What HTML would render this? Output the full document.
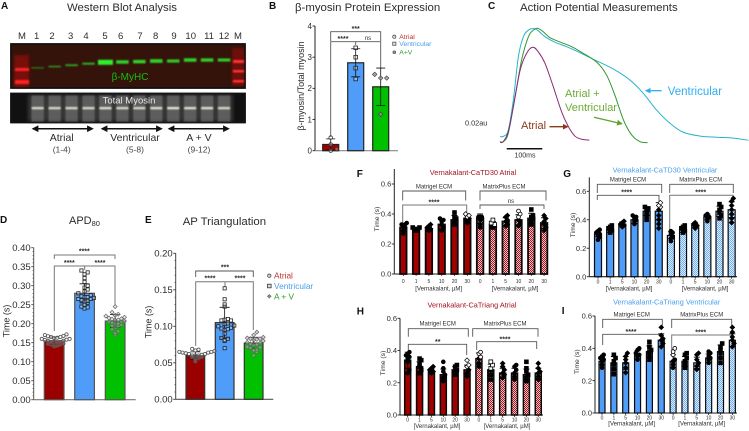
<!DOCTYPE html>
<html lang="en">
<head>
<meta charset="utf-8">
<title>Western blot and action potential figure</title>
<style>
html,body{margin:0;padding:0;background:#fff;width:749px;height:431px;overflow:hidden}
svg{display:block;filter:blur(.35px)}
text{font-family:"Liberation Sans",sans-serif;fill:#2c2c2c}
.letter{font-weight:bold;font-size:10px;fill:#111}
.title{font-size:11.4px;fill:#2c2c2c}
.lane{font-size:9.5px;text-anchor:middle;fill:#2c2c2c}
.grp{font-size:6px;text-anchor:middle;fill:#2c2c2c}
.xl{font-size:6px;text-anchor:middle;fill:#2c2c2c}
.star{font-size:7px;text-anchor:middle;font-weight:bold;fill:#2c2c2c}
.brk{fill:none;stroke:#555;stroke-width:.9}
.brkl{fill:none;stroke:#777;stroke-width:1}
.rl{font-size:10.5px;text-anchor:middle;fill:#2c2c2c}
.rs{font-size:8.5px;text-anchor:middle;fill:#444}
</style>
</head>
<body>
<svg id="fig" width="749" height="431" viewBox="0 0 749 431" xmlns="http://www.w3.org/2000/svg">
<defs>
<filter id="b1" x="-30%" y="-100%" width="160%" height="300%"><feGaussianBlur stdDeviation="0.8"/></filter>
<filter id="b2" x="-30%" y="-30%" width="160%" height="160%"><feGaussianBlur stdDeviation="1.6"/></filter>
<pattern id="hatchRed" width="2" height="2" patternUnits="userSpaceOnUse"><rect width="2" height="2" fill="#f0c4c4"/><rect width="1" height="1" fill="#a81420"/><rect x="1" y="1" width="1" height="1" fill="#a81420"/></pattern>
<pattern id="hatchBlue" width="2" height="2" patternUnits="userSpaceOnUse"><rect width="2" height="2" fill="#dcecff"/><rect width="1" height="1" fill="#6fb0f8"/><rect x="1" y="1" width="1" height="1" fill="#6fb0f8"/></pattern>
<marker id="ah" viewBox="0 0 10 10" refX="8" refY="5" markerWidth="4.5" markerHeight="4.5" orient="auto-start-reverse"><path d="M0 0L10 5L0 10z" fill="#111"/></marker>
<marker id="ahb" viewBox="0 0 10 10" refX="8" refY="5" markerWidth="4.5" markerHeight="4.5" orient="auto"><path d="M0 0L10 5L0 10z" fill="#2eaef0"/></marker>
<marker id="ahg" viewBox="0 0 10 10" refX="8" refY="5" markerWidth="4.5" markerHeight="4.5" orient="auto"><path d="M0 0L10 5L0 10z" fill="#5fa32e"/></marker>
<marker id="ahr" viewBox="0 0 10 10" refX="8" refY="5" markerWidth="4.5" markerHeight="4.5" orient="auto"><path d="M0 0L10 5L0 10z" fill="#8a3a1a"/></marker>
</defs>

<!-- Panel A -->
<g>
<text class="letter" x="1" y="9">A</text>
<text class="title" x="122" y="11" text-anchor="middle">Western Blot Analysis</text>
<g>
<text class="lane" x="22" y="39">M</text><text class="lane" x="36.7" y="39">1</text><text class="lane" x="52" y="39">2</text><text class="lane" x="70.7" y="39">3</text><text class="lane" x="86" y="39">4</text><text class="lane" x="105" y="39">5</text><text class="lane" x="120.7" y="39">6</text><text class="lane" x="140" y="39">7</text><text class="lane" x="155.7" y="39">8</text><text class="lane" x="174" y="39">9</text><text class="lane" x="190.7" y="39">10</text><text class="lane" x="209" y="39">11</text><text class="lane" x="224" y="39">12</text><text class="lane" x="238" y="39">M</text>
</g>
<rect x="11" y="44" width="234" height="44" fill="#34130a" stroke="#111" stroke-width="1.8"/>
<g id="blot1"></g>
<text x="130" y="80" text-anchor="middle" font-size="10" style="fill:#12c012">β-MyHC</text>
<rect x="11" y="93.500" width="234" height="29" fill="#111" stroke="#111" stroke-width="1.8"/>
<g id="blot2"></g>
<text x="129" y="103.500" text-anchor="middle" font-size="9.500" style="fill:#e8e8e8">Total Myosin</text>
<g stroke="#111" stroke-width="1.5">
<line x1="33" y1="128.700" x2="92.500" y2="128.700" marker-start="url(#ah)" marker-end="url(#ah)"/>
<line x1="102" y1="128.700" x2="161.500" y2="128.700" marker-start="url(#ah)" marker-end="url(#ah)"/>
<line x1="169" y1="128.700" x2="228.500" y2="128.700" marker-start="url(#ah)" marker-end="url(#ah)"/>
</g>
<text class="rl" x="61.700" y="141">Atrial</text>
<text class="rl" x="135" y="141">Ventricular</text>
<text class="rl" x="199" y="141">A + V</text>
<text class="rs" x="61.700" y="152.500">(1-4)</text>
<text class="rs" x="135" y="152.500">(5-8)</text>
<text class="rs" x="199" y="152.500">(9-12)</text>
</g>

<!-- Panel B -->
<g>
<text class="letter" x="269" y="9">B</text>
<text class="title" x="295" y="11">β-myosin Protein Expression</text>
<text transform="translate(304,86) rotate(-90)" font-size="9" text-anchor="middle">β-myosin/Total myosin</text>
<path class="brk" d="M330.700 41V31.700H380.700V41"/>
<path class="brk" d="M330.700 137V41.700H380.700V68M355.700 41.700V45"/>
<text class="star" x="355.700" y="31">***</text>
<text class="star" x="343" y="41">****</text>
<text x="368" y="40" font-size="6" text-anchor="middle">ns</text>
<g>
<circle cx="394.300" cy="36.700" r="1.600" fill="#ddd" stroke="#444" stroke-width=".7"/><text x="399.300" y="39" font-size="6.800" style="fill:#c03030">Atrial</text>
<rect x="392.700" y="42.100" width="3.200" height="3.200" fill="#ddd" stroke="#444" stroke-width=".7"/><text x="399.300" y="46" font-size="6.800" style="fill:#4a9df0">Ventricular</text>
<circle cx="394.300" cy="52.300" r="1.400" fill="#999" stroke="#555" stroke-width=".7"/><text x="399.300" y="54.500" font-size="6.800" style="fill:#2aa02a">A+V</text>
</g>
<g id="chartB"></g>
</g>

<!-- Panel C -->
<g>
<text class="letter" x="488" y="9">C</text>
<text class="title" x="520" y="11">Action Potential Measurements</text>
<g id="chartC"></g>
<text x="465" y="125.500" font-size="7.300">0.02au</text>
<line x1="506.700" y1="148.700" x2="542.300" y2="148.700" stroke="#111" stroke-width="1.500"/>
<text x="525" y="157.500" font-size="7" text-anchor="middle">100ms</text>
<text x="667.700" y="95" font-size="11.500" style="fill:#2eaef0">Ventricular</text>
<line x1="661.700" y1="90.700" x2="646" y2="90.700" stroke="#2eaef0" stroke-width="1.300" marker-end="url(#ahb)"/>
<text x="565" y="97" font-size="11" style="fill:#6aaa35">Atrial +</text>
<text x="565" y="111" font-size="11" style="fill:#6aaa35">Ventricular</text>
<line x1="594" y1="117.300" x2="621.700" y2="123.700" stroke="#5fa32e" stroke-width="1.300" marker-end="url(#ahg)"/>
<text x="521" y="129" font-size="11" style="fill:#8a3a1a">Atrial</text>
<line x1="549.500" y1="126.700" x2="567.500" y2="126.700" stroke="#8a3a1a" stroke-width="1.300" marker-end="url(#ahr)"/>
</g>

<!-- Panel D -->
<g>
<text class="letter" x="0" y="223">D</text>
<text x="69" y="224" font-size="11">APD<tspan font-size="7.500" dy="2">80</tspan></text>
<text transform="translate(9.500,321) rotate(-90)" font-size="9" text-anchor="middle">Time (s)</text>
<path class="brkl" d="M54.300 259V255H115V259"/>
<path class="brkl" d="M54.300 331V266H115V305M84.700 266V270"/>
<text class="star" x="84.300" y="253.500">****</text>
<text class="star" x="69.300" y="265">****</text>
<text class="star" x="100" y="265">****</text>
<g id="chartD"></g>
</g>

<!-- Panel E -->
<g>
<text class="letter" x="145" y="223">E</text>
<text class="title" x="182.700" y="225">AP Triangulation</text>
<text transform="translate(151.500,322) rotate(-90)" font-size="9" text-anchor="middle">Time (s)</text>
<path class="brk" d="M195.700 277V271H253.300V277"/>
<path class="brkl" d="M195.700 346V281.700H253.300V330M225 281.700V287"/>
<text class="star" x="225" y="269.500">***</text>
<text class="star" x="210" y="280.500">****</text>
<text class="star" x="240" y="280.500">****</text>
<g>
<circle cx="269.300" cy="275.700" r="1.700" fill="#ccc" stroke="#444" stroke-width=".7"/><text x="274" y="278.500" font-size="8.300" style="fill:#c03030">Atrial</text>
<rect x="267.500" y="284.200" width="3.600" height="3.600" fill="#ddd" stroke="#333" stroke-width=".8"/><text x="274" y="289" font-size="8.300" style="fill:#4a9df0">Ventricular</text>
<path d="M269.300 294.300l2 2-2 2-2-2z" fill="#888" stroke="#555" stroke-width=".5"/><text x="274" y="299.300" font-size="8.300" style="fill:#2aa02a">A + V</text>
</g>
<g id="chartE"></g>
</g>

<!-- Panel F -->
<g>
<text class="letter" x="356.700" y="177" font-size="11">F</text>
<text x="473" y="175" font-size="7.300" text-anchor="middle" style="fill:#a0141e">Vernakalant-CaTD30 Atrial</text>
<text transform="translate(379,219) rotate(-90)" font-size="6.800" text-anchor="middle">Time (s)</text>
<text class="grp" x="434" y="188.300">Matrigel ECM</text>
<text class="grp" x="504" y="188.300">MatrixPlus ECM</text>
<path class="brk" d="M402.700 200.500V191H465.700V200.500"/>
<path class="brk" d="M480 200.500V191H546V200.500"/>
<path class="brkl" d="M402.700 225V205H466.700V213"/>
<path class="brk" d="M480 209V205H544V209"/>
<text class="star" x="434" y="204.500">****</text>
<text x="511" y="203" font-size="6" text-anchor="middle">ns</text>
<text class="xl" x="438.700" y="290.500">[Vernakalant, µM]</text>
<text class="xl" x="515" y="290.500">[Vernakalant, µM]</text>
<g id="chartF"></g>
</g>

<!-- Panel G -->
<g>
<text class="letter" x="563.300" y="177" font-size="11">G</text>
<text x="665" y="172.500" font-size="7.300" text-anchor="middle" style="fill:#4aa0f0">Vernakalant-CaTD30 Ventricular</text>
<text transform="translate(575,225) rotate(-90)" font-size="6.800" text-anchor="middle">Time (s)</text>
<text class="grp" x="628" y="181.500">Matrigel ECM</text>
<text class="grp" x="700.700" y="181.500">MatrixPlus ECM</text>
<path class="brk" d="M597.300 193V184.300H661.700V193"/>
<path class="brk" d="M669.700 193V184.300H733.300V193"/>
<path class="brk" d="M597.300 200V195.300H659V203"/>
<path class="brkl" d="M669.700 230V195.300H733V201"/>
<text class="star" x="626.700" y="194.500">****</text>
<text class="star" x="700.700" y="194.500">****</text>
<text class="xl" x="629" y="290.500">[Vernakalant, µM]</text>
<text class="xl" x="705" y="290.500">[Vernakalant, µM]</text>
<g id="chartG"></g>
</g>

<!-- Panel H -->
<g>
<text class="letter" x="356.700" y="314.500" font-size="11">H</text>
<text x="472" y="307.500" font-size="7.300" text-anchor="middle" style="fill:#a0141e">Vernakalant-CaTriang Atrial</text>
<text transform="translate(385,363) rotate(-90)" font-size="6.800" text-anchor="middle">Time (s)</text>
<text class="grp" x="437.700" y="325.700">Matrigel ECM</text>
<text class="grp" x="505" y="325.700">MatrixPlus ECM</text>
<path class="brk" d="M408.300 336.700V328.700H468.300V336.700"/>
<path class="brk" d="M472.700 336.700V328.700H538V336.700"/>
<path class="brk" d="M408.300 350V344.300H466.700V355"/>
<path class="brk" d="M476.700 350V341.700H536.700V349"/>
<text class="star" x="437.700" y="344">**</text>
<text class="star" x="505" y="341.500">****</text>
<text class="xl" x="437" y="428">[Vernakalant, µM]</text>
<text class="xl" x="507" y="428">[Vernakalant, µM]</text>
<g id="chartH"></g>
</g>

<!-- Panel I -->
<g>
<text class="letter" x="561.700" y="314" font-size="11">I</text>
<text x="666.700" y="304.500" font-size="7.300" text-anchor="middle" style="fill:#4aa0f0">Vernakalant-CaTriang Ventricular</text>
<text transform="translate(579,361.700) rotate(-90)" font-size="6.800" text-anchor="middle">Time (s)</text>
<text class="grp" x="631.700" y="316.700">Matrigel ECM</text>
<text class="grp" x="701.700" y="316.700">MatrixPlus ECM</text>
<path class="brk" d="M602.700 328V319.300H662.300V328"/>
<path class="brk" d="M671.700 328V319.300H731.700V328"/>
<path class="brk" d="M602.700 345V334.300H662V340"/>
<path class="brkl" d="M671.700 350V335H733.300V340"/>
<text class="star" x="631" y="334">****</text>
<text class="star" x="700.700" y="334.500">****</text>
<text class="xl" x="631.700" y="425.500">[Vernakalant, µM]</text>
<text class="xl" x="701.700" y="425.500">[Vernakalant, µM]</text>
<g id="chartI"></g>
</g>
</svg>

<script>
// ---------- Blot data ----------
var bandIntensity = [0.3, 0.42, 0.5, 0.55, 1, 0.8, 0.8, 0.82, 0.75, 0.8, 0.78, 0.75];
var bandMigration = [0.55, 0.52, 0.49, 0.456, 0.425, 0.418, 0.41, 0.396, 0.396, 0.374, 0.374, 0.374];
var myosinIntensity = [0.85, 0.85, 0.85, 0.85, 0.9, 0.85, 0.85, 0.9, 0.95, 0.9, 0.9, 0.85];

// ---------- Panel B ----------
var bMeans = [0.2, 2.82, 2.05];
var bErrors = [0.18, 0.45, 0.6];
var bPoints = [[0.0, 0.05, 0.2, 0.42], [2.3, 2.65, 3.0, 3.3], [1.17, 2.33, 2.33, 2.45]];
var bTicks = ["0", "1", "2", "3", "4"];

// ---------- Panel C (time in ms, amplitude in au) ----------
var ventricularTime = [0,11,23,37,51,65,79,93,106,125,153,185,222,259,315,361,398,435,472,509,556,602,648,690];
var ventricularAmp = [.003,.0033,.0063,.0213,.043,.053,.0563,.057,.056,.053,.0502,.048,.045,.0417,.0368,.0313,.0247,.0163,.0097,.0052,.0033,.0027,.0023,.0012];
var mixedTime = [0,9,23,42,60,79,93,104,120,139,167,199,231,269,296,319,343,366,389,410];
var mixedAmp = [.0005,.0005,.0047,.023,.0413,.053,.0563,.0572,.0555,.0525,.0503,.048,.0447,.0402,.0338,.0238,.0113,.0038,.0005,0];
var atrialTime = [0,9,23,37,56,74,91,106,125,148,171,190,208,227,248];
var atrialAmp = [.0002,.0005,.0055,.018,.0363,.0447,.0477,.0455,.0397,.028,.0155,.008,.0033,.0017,.0013];

// ---------- Panel D ----------
var dMeans = [0.155, 0.28, 0.207];
var dErrors = [0.01, 0.025, 0.017];
var dAtrial = [.14,.142,.145,.145,.147,.148,.15,.15,.152,.152,.155,.155,.157,.158,.16,.16,.162,.163,.165,.165,.167,.168,.17,.172];
var dVentricular = [.24,.243,.245,.25,.255,.258,.26,.262,.265,.265,.268,.27,.27,.272,.275,.28,.285,.29,.295,.30,.31,.32,.33,.335,.34];
var dMixed = [.17,.175,.18,.185,.19,.193,.195,.197,.2,.2,.203,.205,.205,.207,.21,.21,.212,.213,.215,.217,.22,.222,.225,.23,.245];
var dTicks = ["0.00","0.05","0.10","0.15","0.20","0.25","0.30","0.35","0.40"];

// ---------- Panel E ----------
var eMeans = [0.06, 0.105, 0.077];
var eErrors = [0.005, 0.021, 0.008];
var eAtrial = [.052,.055,.056,.058,.058,.06,.06,.06,.061,.062,.062,.063,.064,.064,.065,.065,.066,.067,.068,.069];
var eVentricular = [.07,.08,.081,.083,.084,.09,.095,.096,.097,.098,.1,.101,.103,.104,.108,.108,.109,.11,.127,.13,.137,.152];
var eMixed = [.06,.065,.067,.068,.07,.071,.072,.074,.075,.076,.077,.078,.08,.081,.082,.083,.083,.084,.085,.088,.092];
var eTicks = ["0.00","0.05","0.10","0.15","0.20"];

// ---------- Panels F-I ----------
var doseLabels = ["0","1","5","10","20","30","0","1","5","10","20","30"];
var smallTicks = ["0.0","0.2","0.4","0.6"];
var fMeans = [.31,.3,.3,.33,.36,.37,.37,.33,.35,.36,.37,.34];
var fErrors = [.025,.01,.015,.03,.03,.02,.03,.02,.025,.035,.035,.035];
var fPoints = [[.27,.29,.31,.32,.33,.33,.34],[.29,.3,.3,.31,.31],[.29,.3,.31,.32,.33],[.29,.31,.33,.35,.36,.37],[.33,.35,.37,.38,.41],[.34,.36,.37,.38,.39,.4],[.31,.33,.36,.37,.38,.38,.38],[.31,.32,.33,.34,.36],[.32,.33,.35,.36,.38,.39],[.32,.34,.36,.38,.4,.42],[.33,.35,.37,.38,.39,.43],[.29,.31,.33,.35,.37,.39]];
var gMeans = [.3,.33,.37,.4,.46,.46,.29,.33,.36,.42,.46,.47];
var gErrors = [.02,.02,.015,.025,.03,.06,.025,.02,.015,.02,.035,.055];
var gPoints = [[.26,.28,.29,.3,.31,.32,.33],[.31,.32,.33,.34,.35,.36],[.35,.36,.37,.38,.39],[.37,.39,.4,.41,.42,.43],[.4,.43,.45,.47,.48,.49],[.34,.37,.4,.43,.47,.49,.5,.52],[.25,.27,.28,.3,.31,.32],[.31,.32,.33,.34,.35,.36],[.34,.35,.36,.37,.38],[.39,.41,.42,.43,.44],[.41,.43,.45,.47,.49,.51],[.38,.41,.44,.47,.5,.53,.55]];
var hMeans = [.34,.3,.27,.25,.28,.28,.35,.28,.26,.26,.25,.26];
var hErrors = [.05,.03,.015,.035,.02,.03,.035,.035,.03,.03,.035,.03];
var hPoints = [[.26,.28,.33,.35,.36,.37,.38,.39],[.26,.28,.3,.32,.34,.35],[.26,.27,.28,.29,.3],[.21,.23,.25,.27,.29,.33],[.25,.27,.28,.3,.31],[.24,.26,.28,.3,.31,.34],[.3,.32,.35,.36,.38,.39],[.22,.25,.28,.29,.31,.33],[.23,.25,.26,.28,.3,.32],[.22,.24,.26,.28,.3,.31],[.21,.23,.25,.27,.29,.33],[.22,.24,.26,.27,.29,.32]];
var iMeans = [.32,.31,.31,.36,.38,.45,.32,.32,.31,.34,.38,.45];
var iErrors = [.025,.04,.04,.025,.035,.04,.04,.03,.035,.025,.04,.04];
var iPoints = [[.28,.3,.32,.33,.34,.35,.36],[.24,.27,.3,.32,.34,.36],[.25,.28,.31,.33,.35,.37],[.33,.35,.36,.37,.39,.4],[.33,.36,.38,.39,.41,.44],[.41,.43,.45,.46,.48,.53],[.28,.3,.32,.33,.36,.38,.4],[.28,.3,.32,.34,.36,.37],[.27,.29,.31,.33,.36,.37],[.31,.33,.34,.35,.37,.38],[.31,.34,.37,.39,.41,.43],[.41,.43,.45,.47,.5,.53]];

var NS = "http://www.w3.org/2000/svg";
function mk(parent, tag, name, attrs, txt) {
  var el = document.createElementNS(NS, tag);
  for (var k in attrs) el.setAttribute(k, attrs[k]);
  
  
  if (txt !== undefined) el.textContent = txt;
  parent.appendChild(el);
  return el;
}
function scale(d0, d1, r0, r1) { return function (v) { return r0 + (v - d0) / (d1 - d0) * (r1 - r0); }; }

function marker(g, kind, x, y, s, stroke, fill, name) {
  if (kind === 'square') return mk(g, 'rect', name, {x: x - s, y: y - s, width: 2 * s, height: 2 * s, fill: fill, stroke: stroke, 'stroke-width': .8});
  if (kind === 'diamond') return mk(g, 'path', name, {d: 'M' + x + ' ' + (y - s * 1.25) + 'l' + s * 1.25 + ' ' + s * 1.25 + 'l' + (-s * 1.25) + ' ' + s * 1.25 + 'l' + (-s * 1.25) + ' ' + (-s * 1.25) + 'z', fill: fill, stroke: stroke, 'stroke-width': .7});
  return mk(g, 'circle', name, {cx: x, cy: y, r: s, fill: fill, stroke: stroke, 'stroke-width': .8});
}
// Spread points of similar value sideways so they form a swarm
function swarm(values, bin, step) {
  var counts = {};
  return values.map(function (v) {
    var b = Math.round(v / bin), n = counts[b] || 0;
    counts[b] = n + 1;
    return ((n % 2) ? 1 : -1) * Math.ceil(n / 2) * step;
  });
}

function axisY(g, o) {
  var y = scale(0, o.max, o.y0, o.yTop);
  mk(g, 'line', 'y-axis-line', {x1: o.ax, x2: o.ax, y1: o.y0, y2: o.axisTop, stroke: o.axisColor, 'stroke-width': 1});
  var n = o.ticks.length - 1;
  o.ticks.forEach(function (t, i) {
    var v = i * o.max / n;
    mk(g, 'line', 'y-tick', {x1: o.ax - 2.5, x2: o.ax, y1: y(v), y2: y(v), stroke: o.axisColor, 'stroke-width': .9});
    mk(g, 'text', 'y-tick-label', {x: o.ax - 3, y: y(v) + o.tickFont * .36, 'font-size': o.tickFont, 'text-anchor': 'end'}, t);
  });
  if (o.minor) {
    for (var j = 0; j <= Math.round(o.max / o.minor); j++) {
      mk(g, 'line', 'y-minor-tick', {x1: o.ax - 1.3, x2: o.ax, y1: y(j * o.minor), y2: y(j * o.minor), stroke: o.axisColor, 'stroke-width': .6});
    }
  }
  mk(g, 'line', 'x-axis-line', {x1: o.ax, x2: o.xEnd, y1: o.y0, y2: o.y0, stroke: o.baseColor, 'stroke-width': 1.1});
  return y;
}

function bigChart(g, o) {
  var y = axisY(g, o);
  o.means.forEach(function (m, i) {
    mk(g, 'rect', 'bar-' + o.labels[i], {x: o.bars[i], y: y(m), width: o.barW, height: o.y0 - y(m), fill: o.colors[i], stroke: o.barStroke, 'stroke-width': 1.2});
  });
  o.means.forEach(function (m, i) {
    var cx = o.bars[i] + o.barW / 2, e = o.errors[i];
    mk(g, 'path', 'error-bar-' + o.labels[i], {d: 'M' + (cx - o.capW) + ' ' + y(m + e) + 'H' + (cx + o.capW) + 'M' + cx + ' ' + y(m + e) + 'V' + y(m - e) + 'M' + (cx - o.capW) + ' ' + y(m - e) + 'H' + (cx + o.capW), fill: 'none', stroke: '#111', 'stroke-width': .8});
    var off = swarm(o.points[i], o.bin, o.step);
    o.points[i].forEach(function (v, j) {
      marker(g, o.kinds[i], cx + off[j], y(v), o.size, o.mStroke[i], o.mFill[i], 'point-' + o.labels[i]);
    });
  });
}

function smallChart(g, o) {
  var y = axisY(g, o);
  var x = function (i) { return o.xStart + i * o.xStep; };
  o.means.forEach(function (m, i) {
    mk(g, 'rect', 'bar-dose-' + doseLabels[i] + (i < 6 ? '-matrigel' : '-matrixplus'), {x: x(i) - o.barW / 2, y: y(m), width: o.barW, height: o.y0 - y(m), fill: i < 6 ? o.solid : o.hatch, stroke: '#0a0a0a', 'stroke-width': o.barStroke});
    mk(g, 'text', 'x-tick-label', {x: x(i), y: o.tickY, 'font-size': 5, 'text-anchor': 'middle'}, doseLabels[i]);
    mk(g, 'line', 'x-tick', {x1: x(i), x2: x(i), y1: o.y0, y2: o.y0 + 2, stroke: '#111', 'stroke-width': .7});
  });
  o.means.forEach(function (m, i) {
    var e = o.errors[i], cx = x(i);
    mk(g, 'path', 'error-bar', {d: 'M' + (cx - 3) + ' ' + y(m + e) + 'H' + (cx + 3) + 'M' + cx + ' ' + y(m + e) + 'V' + y(m - e) + 'M' + (cx - 3) + ' ' + y(m - e) + 'H' + (cx + 3), fill: 'none', stroke: '#000', 'stroke-width': .9});
    var off = swarm(o.points[i], .03, 1.7);
    o.points[i].forEach(function (v, j) {
      var open = (o.open.indexOf(i) >= 0 && j >= o.points[i].length - 3);
      marker(g, i % 3 === 2 ? 'diamond' : (i % 3 === 1 ? 'square' : 'circle'), cx + off[j], y(v), 1.9, '#000', open ? '#fff' : '#000', 'data-point');
    });
  });
}

// Blots
(function () {
  var g1 = document.getElementById('blot1');
  var lx = function (i) { return 37.7 + i * 16.94; };
  var my = function (m) { return 43.3 + m * 44.7; };
  mk(g1, 'rect', 'marker-lane-left', {x: 14, y: 55, width: 15, height: 32, fill: '#b01010', opacity: .55, filter: 'url(#b2)'});
  mk(g1, 'rect', 'marker-lane-right', {x: 232, y: 48, width: 12, height: 38, fill: '#a01010', opacity: .55, filter: 'url(#b2)'});
  [[15, 68, 14, 3, '#ff2020'], [15, 80, 14, 4, '#ff2020'], [233, 60, 11, 3, '#ff3030'], [233, 70, 11, 2.5, '#ff3030'], [233, 80, 11, 2.5, '#ff3030']].forEach(function (m) {
    mk(g1, 'rect', 'ladder-band', {x: m[0], y: m[1], width: m[2], height: m[3], fill: m[4], filter: 'url(#b1)'});
  });
  bandIntensity.forEach(function (v, i) {
    var h = .8 + 4.2 * v * v, w = (i === 4 ? 15 : 12.5);
    mk(g1, 'rect', 'myhc-band-lane-' + (i + 1), {x: lx(i) - w / 2, y: my(bandMigration[i]) - h / 2, width: w, height: h, fill: '#2ef02e', opacity: .3 + .7 * v, filter: 'url(#b1)'});
  });
  var g2 = document.getElementById('blot2');
  mk(g2, 'rect', 'myosin-background-glow', {x: 28, y: 95, width: 205, height: 26, fill: '#343434', filter: 'url(#b2)'});
  myosinIntensity.forEach(function (v, i) {
    mk(g2, 'rect', 'myosin-lane-' + (i + 1), {x: lx(i) - 6.2, y: 95.5, width: 12.4, height: 26, fill: '#6e6e6e', opacity: .7, filter: 'url(#b1)'});
    mk(g2, 'rect', 'myosin-band-' + (i + 1), {x: lx(i) - 6, y: 107, width: 12, height: 2.3, fill: '#f4efe0', opacity: v, filter: 'url(#b1)'});
  });
})();

// Panel B
bigChart(document.getElementById('chartB'), {
  means: bMeans, errors: bErrors, points: bPoints, ticks: bTicks, max: 4,
  ax: 315, y0: 150.7, yTop: 26, axisTop: 26, xEnd: 398, tickFont: 8, axisColor: '#222', baseColor: '#888',
  bars: [322.7, 347.7, 372.7], barW: 16, barStroke: '#222', capW: 4.5, colors: ['#a00000', '#4f9df8', '#00c000'], labels: ['atrial', 'ventricular', 'a-plus-v'],
  kinds: ['circle', 'square', 'diamond'], size: 1.8, bin: .2, step: 6, mStroke: ['#333', '#222', '#444'], mFill: ['rgba(255,255,255,.3)', 'rgba(255,255,255,.3)', 'rgba(150,150,150,.8)']
});

// Panel C
(function () {
  var g = document.getElementById('chartC');
  var tx = scale(0, 100, 500, 536);
  var vy = scale(0, 0.02, 142.67, 102.67);
  function smooth(t, a) {
    var p = t.map(function (v, i) { return [tx(v), vy(a[i])]; }), d = 'M' + p[0][0] + ' ' + p[0][1];
    for (var i = 0; i < p.length - 1; i++) {
      var p0 = p[Math.max(0, i - 1)], p1 = p[i], p2 = p[i + 1], p3 = p[Math.min(p.length - 1, i + 2)];
      d += 'C' + (p1[0] + (p2[0] - p0[0]) / 6) + ' ' + (p1[1] + (p2[1] - p0[1]) / 6) + ' ' + (p2[0] - (p3[0] - p1[0]) / 6) + ' ' + (p2[1] - (p3[1] - p1[1]) / 6) + ' ' + p2[0] + ' ' + p2[1];
    }
    return d;
  }
  mk(g, 'path', 'trace-ventricular', {d: smooth(ventricularTime, ventricularAmp), fill: 'none', stroke: '#2ab3cc', 'stroke-width': 1});
  mk(g, 'path', 'trace-atrial-plus-ventricular', {d: smooth(mixedTime, mixedAmp), fill: 'none', stroke: '#2f962f', 'stroke-width': 1});
  mk(g, 'path', 'trace-atrial', {d: smooth(atrialTime, atrialAmp), fill: 'none', stroke: '#8c2a78', 'stroke-width': 1});
})();

// Panel D
bigChart(document.getElementById('chartD'), {
  means: dMeans, errors: dErrors, points: [dAtrial, dVentricular, dMixed], ticks: dTicks, max: .4, minor: .01,
  ax: 33.7, y0: 399.7, yTop: 247.7, axisTop: 247.7, xEnd: 135.7, tickFont: 9.5, axisColor: '#555', baseColor: '#777',
  bars: [44.3, 74.7, 105.3], barW: 19.7, barStroke: '#555', capW: 5, colors: ['#9b0000', '#4f9df8', '#00c000'], labels: ['atrial', 'ventricular', 'a-plus-v'],
  kinds: ['circle', 'square', 'diamond'], size: 1.6, bin: .012, step: 3.1, mStroke: ['#555', '#222', '#666'], mFill: ['rgba(255,255,255,.2)', 'rgba(255,255,255,.3)', 'rgba(200,200,200,.4)']
});

// Panel E
bigChart(document.getElementById('chartE'), {
  means: eMeans, errors: eErrors, points: [eAtrial, eVentricular, eMixed], ticks: eTicks, max: .2, minor: .01,
  ax: 175.7, y0: 399.3, yTop: 253.3, axisTop: 253.3, xEnd: 273.3, tickFont: 9.5, axisColor: '#444', baseColor: '#555',
  bars: [186, 215.3, 244.3], barW: 18.7, barStroke: '#333', capW: 5, colors: ['#9b0000', '#4f9df8', '#00c000'], labels: ['atrial', 'ventricular', 'a-plus-v'],
  kinds: ['circle', 'square', 'diamond'], size: 1.6, bin: .007, step: 3.2, mStroke: ['#555', '#222', '#666'], mFill: ['rgba(255,255,255,.2)', 'rgba(255,255,255,.3)', 'rgba(180,180,180,.6)']
});

// Panels F-I
smallChart(document.getElementById('chartF'), {
  means: fMeans, errors: fErrors, points: fPoints, ticks: smallTicks, max: .6,
  ax: 394.3, y0: 274, yTop: 184, axisTop: 169, xEnd: 548, tickFont: 7.5, axisColor: '#222', baseColor: '#222',
  xStart: 403.3, xStep: 12.8, barW: 6.5, barStroke: 1.8, solid: '#a40000', hatch: 'url(#hatchRed)', tickY: 283, open: [5, 7, 9]
});
smallChart(document.getElementById('chartG'), {
  means: gMeans, errors: gErrors, points: gPoints, ticks: smallTicks, max: .6,
  ax: 589.3, y0: 276.7, yTop: 191.3, axisTop: 177.3, xEnd: 737, tickFont: 7.5, axisColor: '#222', baseColor: '#222',
  xStart: 598, xStep: 12.15, barW: 7, barStroke: 1.2, solid: '#4f9df8', hatch: 'url(#hatchBlue)', tickY: 283.5, open: [5]
});
smallChart(document.getElementById('chartH'), {
  means: hMeans, errors: hErrors, points: hPoints, ticks: smallTicks, max: .6,
  ax: 400, y0: 415, yTop: 318.3, axisTop: 318.3, xEnd: 543, tickFont: 7.5, axisColor: '#222', baseColor: '#222',
  xStart: 407.7, xStep: 11.87, barW: 6, barStroke: 1.5, solid: '#a40000', hatch: 'url(#hatchRed)', tickY: 421.5, open: [5, 6, 7]
});
smallChart(document.getElementById('chartI'), {
  means: iMeans, errors: iErrors, points: iPoints, ticks: smallTicks, max: .6,
  ax: 595, y0: 413, yTop: 316, axisTop: 316, xEnd: 737, tickFont: 7.5, axisColor: '#222', baseColor: '#222',
  xStart: 602, xStep: 11.85, barW: 6, barStroke: 1.2, solid: '#4f9df8', hatch: 'url(#hatchBlue)', tickY: 419.5, open: [6]
});
</script>
</body>
</html>
